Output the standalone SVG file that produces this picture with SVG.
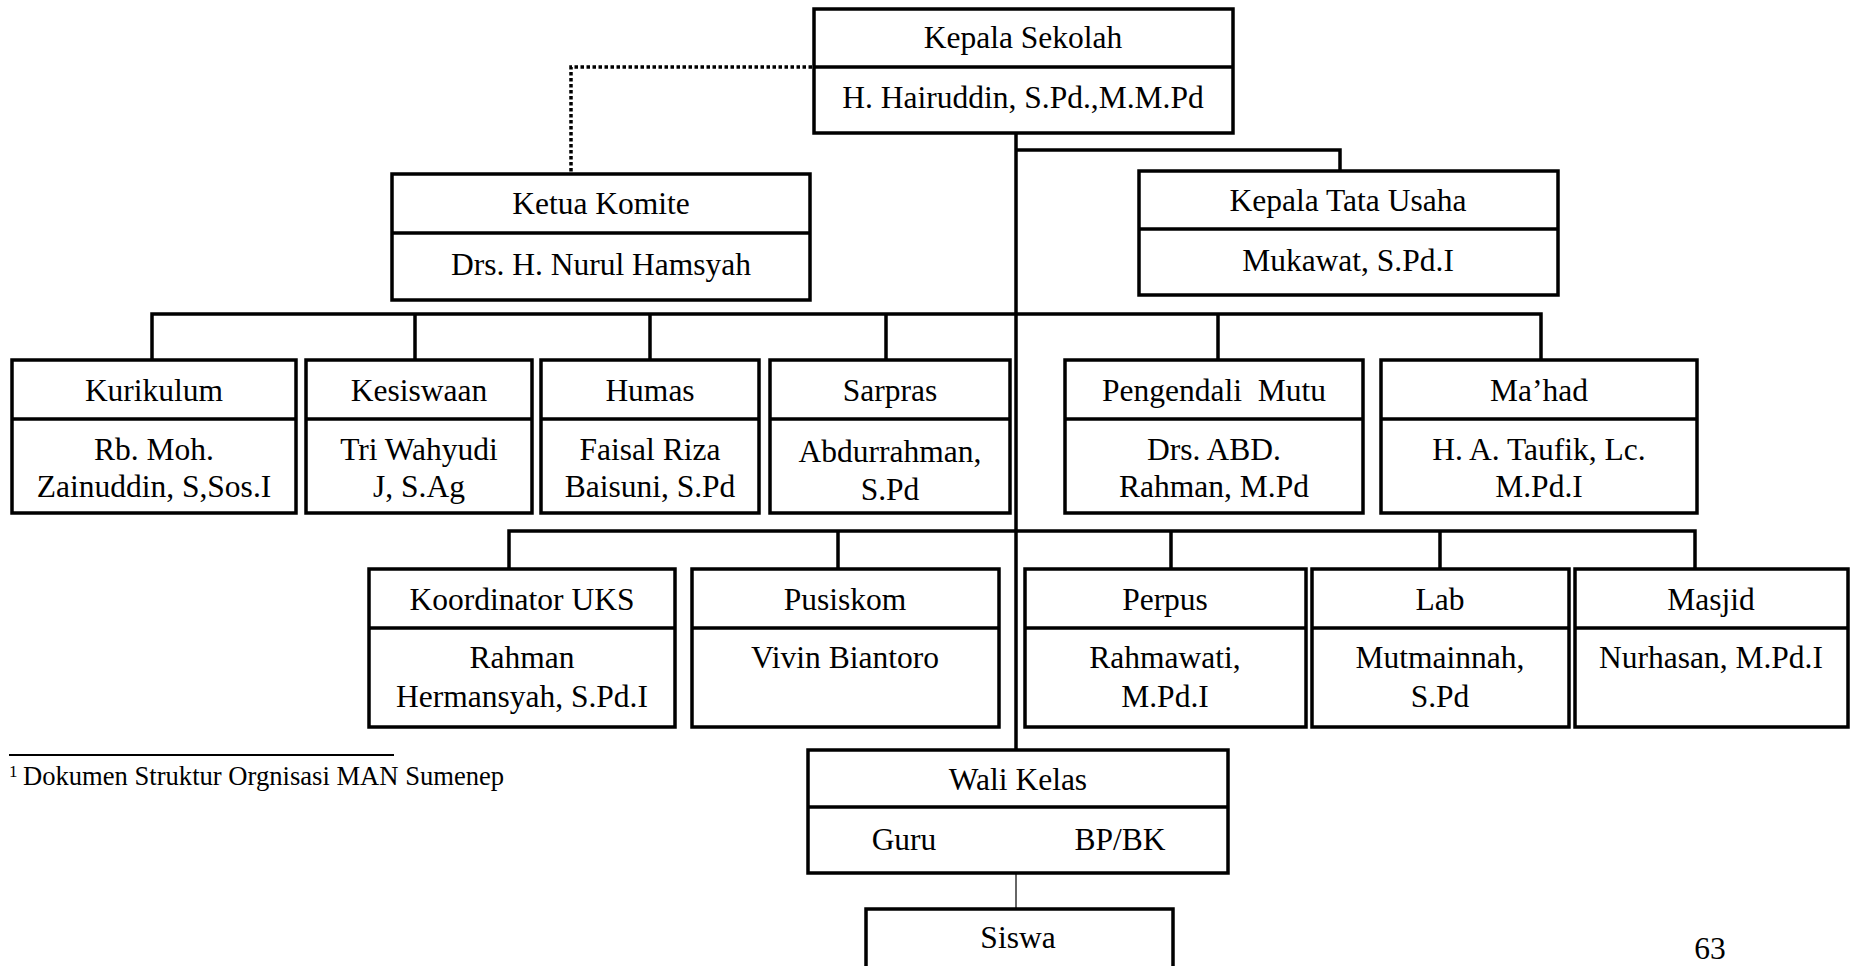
<svg xmlns="http://www.w3.org/2000/svg" width="1856" height="966" viewBox="0 0 1856 966">
<style>
.box{fill:#fff;stroke:#000;stroke-width:3.5}
.div{stroke:#000;stroke-width:3.5}
.ln{fill:none;stroke:#000;stroke-width:3.5}
.thin{fill:none;stroke:#333;stroke-width:1.5}
.dot{fill:none;stroke:#000;stroke-width:3.5;stroke-dasharray:3.5 2.5}
text{font-family:"Liberation Serif","Times New Roman",serif;font-size:31.5px;fill:#000;text-anchor:middle}
.fn{font-size:26.6px;text-anchor:start}
.sup{font-size:17px;text-anchor:start}
</style>
<rect width="1856" height="966" fill="#fff"/>
<g id="connectors">
<path class="dot" d="M812 67 H571 V174"/>
<path class="ln" d="M1016 133 V750"/>
<path class="ln" d="M1016 150 H1340 V171"/>
<path class="ln" d="M152 360 V314 H1541 V360"/>
<path class="ln" d="M415 314 V360 M650 314 V360 M886 314 V360 M1218 314 V360"/>
<path class="ln" d="M509 569 V531 H1695 V569"/>
<path class="ln" d="M838 531 V569 M1171 531 V569 M1440 531 V569"/>
<path class="thin" d="M1016 807 V909"/>
</g>
<g id="kepala-sekolah">
<rect class="box" x="814" y="9" width="419" height="124"/>
<line class="div" x1="814" y1="67" x2="1233" y2="67"/>
<text x="1023" y="48">Kepala Sekolah</text>
<text x="1023" y="108">H. Hairuddin, S.Pd.,M.M.Pd</text>
</g>
<g id="ketua-komite">
<rect class="box" x="392" y="174" width="418" height="126"/>
<line class="div" x1="392" y1="233" x2="810" y2="233"/>
<text x="601" y="214">Ketua Komite</text>
<text x="601" y="275">Drs. H. Nurul Hamsyah</text>
</g>
<g id="kepala-tata-usaha">
<rect class="box" x="1139" y="171" width="419" height="124"/>
<line class="div" x1="1139" y1="229" x2="1558" y2="229"/>
<text x="1348" y="211">Kepala Tata Usaha</text>
<text x="1348" y="271">Mukawat, S.Pd.I</text>
</g>
<g id="kurikulum">
<rect class="box" x="12" y="360" width="284" height="153"/>
<line class="div" x1="12" y1="419" x2="296" y2="419"/>
<text x="154" y="401">Kurikulum</text>
<text x="154" y="460">Rb. Moh.</text>
<text x="154" y="497">Zainuddin, S,Sos.I</text>
</g>
<g id="kesiswaan">
<rect class="box" x="306" y="360" width="226" height="153"/>
<line class="div" x1="306" y1="419" x2="532" y2="419"/>
<text x="419" y="401">Kesiswaan</text>
<text x="419" y="460">Tri Wahyudi</text>
<text x="419" y="497">J, S.Ag</text>
</g>
<g id="humas">
<rect class="box" x="541" y="360" width="218" height="153"/>
<line class="div" x1="541" y1="419" x2="759" y2="419"/>
<text x="650" y="401">Humas</text>
<text x="650" y="460">Faisal Riza</text>
<text x="650" y="497">Baisuni, S.Pd</text>
</g>
<g id="sarpras">
<rect class="box" x="770" y="360" width="240" height="153"/>
<line class="div" x1="770" y1="419" x2="1010" y2="419"/>
<text x="890" y="401">Sarpras</text>
<text x="890" y="462">Abdurrahman,</text>
<text x="890" y="500">S.Pd</text>
</g>
<g id="pengendali-mutu">
<rect class="box" x="1065" y="360" width="298" height="153"/>
<line class="div" x1="1065" y1="419" x2="1363" y2="419"/>
<text x="1214" y="401" xml:space="preserve">Pengendali  Mutu</text>
<text x="1214" y="460">Drs. ABD.</text>
<text x="1214" y="497">Rahman, M.Pd</text>
</g>
<g id="mahad">
<rect class="box" x="1381" y="360" width="316" height="153"/>
<line class="div" x1="1381" y1="419" x2="1697" y2="419"/>
<text x="1539" y="401">Ma’had</text>
<text x="1539" y="460">H. A. Taufik, Lc.</text>
<text x="1539" y="497">M.Pd.I</text>
</g>
<g id="koordinator-uks">
<rect class="box" x="369" y="569" width="306" height="158"/>
<line class="div" x1="369" y1="628" x2="675" y2="628"/>
<text x="522" y="610">Koordinator UKS</text>
<text x="522" y="668">Rahman</text>
<text x="522" y="707">Hermansyah, S.Pd.I</text>
</g>
<g id="pusiskom">
<rect class="box" x="692" y="569" width="307" height="158"/>
<line class="div" x1="692" y1="628" x2="999" y2="628"/>
<text x="845" y="610">Pusiskom</text>
<text x="845" y="668">Vivin Biantoro</text>
</g>
<g id="perpus">
<rect class="box" x="1025" y="569" width="281" height="158"/>
<line class="div" x1="1025" y1="628" x2="1306" y2="628"/>
<text x="1165" y="610">Perpus</text>
<text x="1165" y="668">Rahmawati,</text>
<text x="1165" y="707">M.Pd.I</text>
</g>
<g id="lab">
<rect class="box" x="1312" y="569" width="257" height="158"/>
<line class="div" x1="1312" y1="628" x2="1569" y2="628"/>
<text x="1440" y="610">Lab</text>
<text x="1440" y="668">Mutmainnah,</text>
<text x="1440" y="707">S.Pd</text>
</g>
<g id="masjid">
<rect class="box" x="1575" y="569" width="273" height="158"/>
<line class="div" x1="1575" y1="628" x2="1848" y2="628"/>
<text x="1711" y="610">Masjid</text>
<text x="1711" y="668">Nurhasan, M.Pd.I</text>
</g>
<g id="wali-kelas">
<rect class="box" x="808" y="750" width="420" height="123"/>
<line class="div" x1="808" y1="807" x2="1228" y2="807"/>
<text x="1018" y="790">Wali Kelas</text>
<text x="904" y="850">Guru</text>
<text x="1120" y="850">BP/BK</text>
</g>
<g id="siswa">
<rect class="box" x="866" y="909" width="307" height="80"/>
<text x="1018" y="948">Siswa</text>
</g>
<g id="footnote">
<line x1="9" y1="755" x2="394" y2="755" stroke="#000" stroke-width="2"/>
<text class="sup" x="9" y="777">1</text>
<text class="fn" x="23" y="785">Dokumen Struktur Orgnisasi MAN Sumenep</text>
</g>
<text x="1710" y="959">63</text>
</svg>
